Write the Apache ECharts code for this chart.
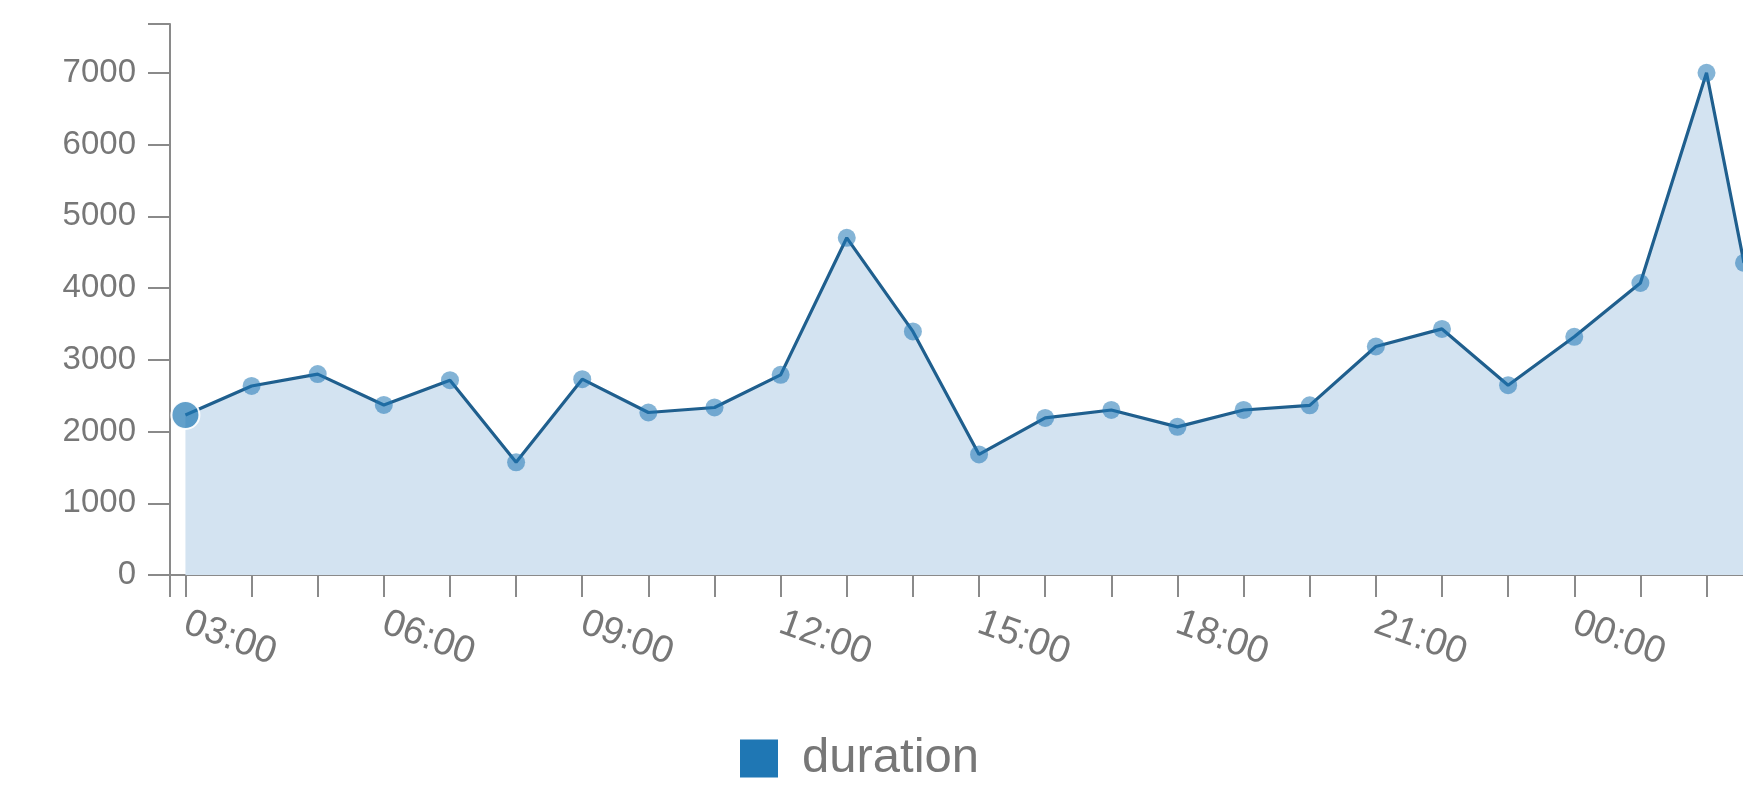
<!DOCTYPE html>
<html>
<head>
<meta charset="utf-8">
<script src="https://cdn.jsdelivr.net/npm/echarts@6/dist/echarts.min.js"></script>
<style>
html,body{margin:0;padding:0;background:#fff;}
#chart{width:1743px;height:788px;}
</style>
</head>
<body>
<div id="chart"></div>
<script>
// ---- data ----
const times = ['03:00','04:00','05:00','06:00','07:00','08:00','09:00','10:00','11:00','12:00',
  '13:00','14:00','15:00','16:00','17:00','18:00','19:00','20:00','21:00','22:00',
  '23:00','00:00','01:00','02:00','02:34'];
const durations = [2230,2635,2800,2370,2715,1570,2730,2265,2335,2790,
  4700,3395,1680,2190,2300,2065,2300,2365,3185,3430,
  2645,3320,4070,7000,4350];
const seriesName = 'duration';
const xMinTime = '02:46';       // start of x domain (day 1)
const xMaxTime = '02:34';       // end of x domain (day 2)
const xLabelTimes = ['03:00','06:00','09:00','12:00','15:00','18:00','21:00','00:00'];
const yTickValues = [0,1000,2000,3000,4000,5000,6000,7000];
const yMax = 7680;

// ---- helpers ----
function minutesOf(t){ const p=t.split(':').map(Number); return p[0]*60+p[1]; }
function sequentialHours(list){
  let offset=0, prev=-1;
  return list.map(t=>{ let m=minutesOf(t)+offset; if(m<prev){offset+=1440;m+=1440;} prev=m; return m/60; });
}
function fmt(v){
  const mins=Math.round(v*60); const h=Math.floor(mins/60)%24; const m=((mins%60)+60)%60;
  return String(h).padStart(2,'0')+':'+String(m).padStart(2,'0');
}
const xs = sequentialHours(times);
const xMin = minutesOf(xMinTime)/60;
const xMax = minutesOf(xMaxTime)/60 + 24;
const xLabelValues = sequentialHours(xLabelTimes).concat([xMax]);
const xTickValues = [xMin];
for(let h=Math.ceil(xMin); h<=Math.floor(xMax); h++) xTickValues.push(h);
xTickValues.push(xMax);

const seriesData = xs.map((x,i)=>{
  if(i===0) return {value:[x,durations[i]], symbolSize:28,
    itemStyle:{color:'rgba(31,119,180,0.7)', borderColor:'rgba(255,255,255,0.95)', borderWidth:2}};
  return [x,durations[i]];
});

const axisGrey = '#8a8a8a';
const labelGrey = '#777777';
const font = "'Liberation Sans', Arial, Helvetica, sans-serif";

const chart = echarts.init(document.getElementById('chart'), null, {renderer:'canvas'});
chart.setOption({
  animation:false,
  backgroundColor:'#ffffff',
  grid:{left:170, top:24, width:1574, height:551, containLabel:false, outerBoundsMode:'none'},
  legend:{
    data:[{name:seriesName, itemStyle:{color:'#1f77b4', opacity:1}}],
    icon:'rect', itemWidth:38, itemHeight:38, left:735, top:729,
    textStyle:{fontSize:49, color:labelGrey, fontFamily:font, padding:[0,0,0,19]}
  },
  xAxis:{
    type:'value', min:xMin, max:xMax,
    axisLine:{show:true, lineStyle:{color:axisGrey, width:2}},
    axisTick:{show:true, length:22, inside:false, customValues:xTickValues, lineStyle:{color:axisGrey, width:2}},
    axisLabel:{show:true, customValues:xLabelValues, rotate:-20, margin:47, fontSize:38,
      color:labelGrey, fontFamily:font, formatter:(v)=>fmt(v), hideOverlap:false},
    splitLine:{show:false}
  },
  yAxis:{
    type:'value', min:0, max:yMax,
    axisLine:{show:true, lineStyle:{color:axisGrey, width:2}},
    axisTick:{show:true, length:22, customValues:yTickValues.concat([yMax]), lineStyle:{color:axisGrey, width:2}},
    axisLabel:{show:true, customValues:yTickValues, margin:34, fontSize:33, color:labelGrey, fontFamily:font,
      formatter:(v)=>String(v)},
    splitLine:{show:false}
  },
  series:[{
    name:seriesName, type:'line', data:seriesData,
    symbol:'circle', symbolSize:18, showAllSymbol:true,
    itemStyle:{color:'rgba(31,119,180,0.55)'},
    lineStyle:{color:'#1f5f8e', width:3.2},
    areaStyle:{color:'#d3e3f1', opacity:1},
    emphasis:{disabled:true}
  }]
});
</script>
</body>
</html>
